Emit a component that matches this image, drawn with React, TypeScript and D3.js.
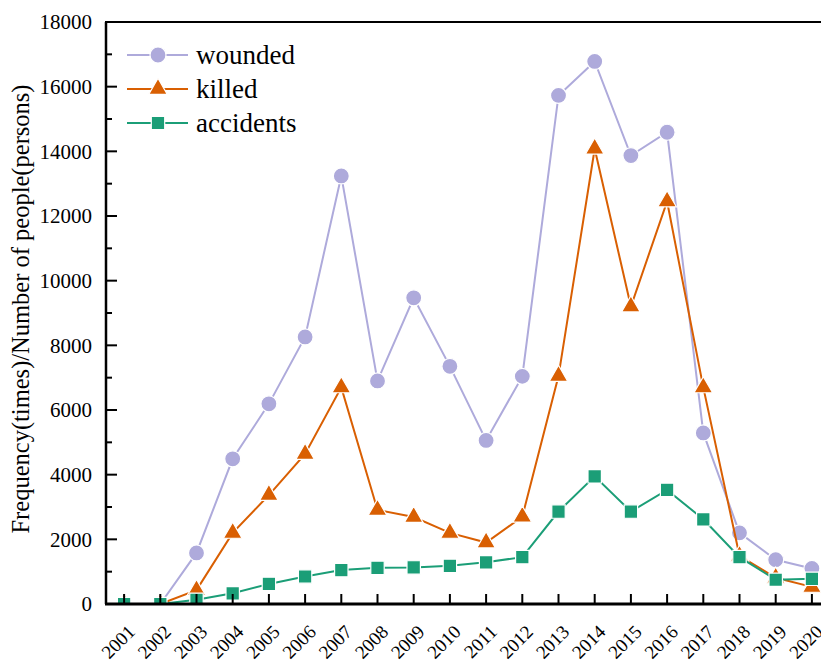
import React from "react";
import * as d3 from "d3";

// Yearly casualty and accident counts
const years = [2001, 2002, 2003, 2004, 2005, 2006, 2007, 2008, 2009, 2010, 2011, 2012, 2013, 2014, 2015, 2016, 2017, 2018, 2019, 2020];
const wounded = [0, 0, 1580, 4490, 6190, 8260, 13240, 6900, 9470, 7350, 5060, 7040, 15730, 16780, 13870, 14590, 5290, 2200, 1370, 1100];
const killed = [0, 0, 430, 2200, 3370, 4640, 6700, 2910, 2690, 2200, 1900, 2700, 7050, 14080, 9200, 12450, 6700, 1490, 810, 530];
const accidents = [0, 0, 130, 330, 620, 850, 1050, 1120, 1130, 1180, 1290, 1450, 2860, 3950, 2860, 3530, 2620, 1450, 750, 780];
const yTicks = [0, 2000, 4000, 6000, 8000, 10000, 12000, 14000, 16000, 18000];

const W = 821;
const H = 666;
const left = 106;
const top = 22;
const bottom = 604;
const right = 830;

const FONT = "'Liberation Serif', 'Times New Roman', Times, serif";
const textStyle = { fontFamily: FONT };

type Series = { name: string; values: number[]; color: string; shape: "circle" | "triangle" | "square" };

const series: Series[] = [
  { name: "wounded", values: wounded, color: "#aeaadb", shape: "circle" },
  { name: "killed", values: killed, color: "#d95f02", shape: "triangle" },
  { name: "accidents", values: accidents, color: "#1b9e77", shape: "square" },
];

function Marker({ shape, x, y, color }: { shape: Series["shape"]; x: number; y: number; color: string }) {
  if (shape === "circle") {
    return <circle cx={x} cy={y} r={8} fill={color} stroke="#fff" strokeWidth={1.2} />;
  }
  const sym = shape === "triangle" ? d3.symbol(d3.symbolTriangle, 150) : d3.symbol(d3.symbolSquare, 180);
  return <path d={sym() || ""} transform={`translate(${x},${y})`} fill={color} stroke="#fff" strokeWidth={1.2} />;
}

export default function App() {
  const x = d3.scaleLinear().domain([2000.5, 2020.5]).range([left, right]);
  const y = d3.scaleLinear().domain([0, 18000]).range([bottom, top]);
  const minor = d3.range(1000, 18000, 2000);

  const line = d3
    .line<number>()
    .x((_, i) => x(years[i]))
    .y((d) => y(d));

  return (
    <svg
      width={W}
      height={H}
      style={{ position: "absolute", left: 0, top: 0, background: "#fff", overflow: "hidden" }}
    >
      <defs>
        <clipPath id="plot-area">
          <rect x={left} y={top} width={right - left} height={bottom - top} />
        </clipPath>
      </defs>

      {/* series lines and markers */}
      <g clipPath="url(#plot-area)">
        {series.map((s) => (
          <g key={s.name}>
            <path d={line(s.values) || ""} fill="none" stroke={s.color} strokeWidth={2} />
            {s.values.map((v, i) => (
              <Marker key={i} shape={s.shape} x={x(years[i])} y={y(v)} color={s.color} />
            ))}
          </g>
        ))}
      </g>

      {/* frame */}
      <rect x={left} y={top} width={right - left} height={bottom - top} fill="none" stroke="#000" strokeWidth={2} />
      <line x1={left - 1} x2={right} y1={bottom} y2={bottom} stroke="#000" strokeWidth={3} />
      <line x1={left} x2={left} y1={top} y2={bottom} stroke="#000" strokeWidth={2.5} />

      {/* y axis */}
      {yTicks.map((t) => (
        <g key={t}>
          <line x1={left} x2={left + 11} y1={y(t)} y2={y(t)} stroke="#000" strokeWidth={2} />
          <text x={left - 14} y={y(t)} dy="0.35em" textAnchor="end" fontSize={21} fill="#000" style={textStyle}>
            {t}
          </text>
        </g>
      ))}
      {minor.map((t) => (
        <line key={t} x1={left} x2={left + 6} y1={y(t)} y2={y(t)} stroke="#000" strokeWidth={2} />
      ))}
      <text
        transform={`translate(${29},${309}) rotate(-90)`}
        textAnchor="middle"
        fontSize={24.5}
        fill="#000"
        style={textStyle}
      >
        Frequency(times)/Number of people(persons)
      </text>

      {/* x axis */}
      {years.map((yr) => (
        <g key={yr}>
          <line x1={x(yr)} x2={x(yr)} y1={bottom} y2={bottom - 10} stroke="#000" strokeWidth={2} />
          <text
            transform={`translate(${x(yr) + 12},${bottom + 29}) rotate(-45)`}
            textAnchor="end"
            fontSize={19}
            fill="#000"
            style={textStyle}
          >
            {yr}
          </text>
        </g>
      ))}

      {/* legend */}
      {series.map((s, i) => {
        const ly = 55 + i * 34;
        return (
          <g key={s.name}>
            <line x1={127} x2={188} y1={ly} y2={ly} stroke={s.color} strokeWidth={2} />
            <Marker shape={s.shape} x={158} y={ly} color={s.color} />
            <text x={196} y={ly} dy="0.33em" fontSize={27} fill="#000" style={textStyle}>
              {s.name}
            </text>
          </g>
        );
      })}
    </svg>
  );
}
